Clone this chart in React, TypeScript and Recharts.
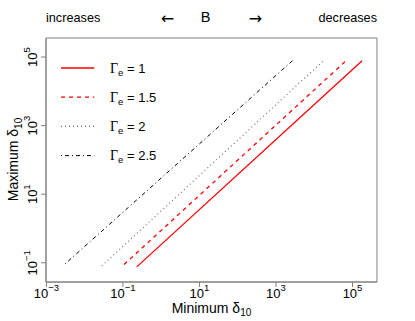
import React from 'react';
import { LineChart, Line, XAxis, YAxis, ReferenceArea, Legend } from 'recharts';

// ---- data (log-log axes) ----
const seriesNames = ['1', '1.5', '2', '2.5'];
const gamma1X = [0.23, 178000];
const gamma1Y = [0.076, 78000];
const gamma15X = [0.107, 67600];
const gamma15Y = [0.089, 78000];
const gamma2X = [0.028, 17400];
const gamma2Y = [0.081, 78000];
const gamma25X = [0.0031, 2690];
const gamma25Y = [0.093, 78000];

const xTicks = [1e-3, 1e-1, 1e1, 1e3, 1e5];
const yTicks = [1e-1, 1e1, 1e3, 1e5];
const xDomain = [Math.pow(10, -3.01), Math.pow(10, 5.64)];
const yDomain = [Math.pow(10, -1.56), Math.pow(10, 5.555)];

const zip = (xs: number[], ys: number[]) => xs.map((x, i) => ({ x, y: ys[i] }));

const styles = [
  { color: '#ff0000', dash: undefined, width: 1.3 },
  { color: '#ff0000', dash: '4 4', width: 1.3 },
  { color: '#666666', dash: '1 3', width: 1.1 },
  { color: '#000000', dash: '1 3 4 3', width: 1.0 },
];

const series = [
  { name: seriesNames[0], data: zip(gamma1X, gamma1Y), ...styles[0] },
  { name: seriesNames[1], data: zip(gamma15X, gamma15Y), ...styles[1] },
  { name: seriesNames[2], data: zip(gamma2X, gamma2Y), ...styles[2] },
  { name: seriesNames[3], data: zip(gamma25X, gamma25Y), ...styles[3] },
];

const FONT = '"Liberation Sans", Arial, Helvetica, sans-serif';
const BOX = '#808080';

const expOf = (v: number) => {
  const e = Math.round(Math.log10(v));
  return e < 0 ? '\u2212' + Math.abs(e) : String(e);
};

const XTick = (props: any) => {
  const { x, payload } = props;
  return (
    <text x={x} y={298} textAnchor="middle" fontSize={13} fontFamily={FONT} fill="#000">
      10<tspan dy={-7} fontSize={9.5}>{expOf(payload.value)}</tspan>
    </text>
  );
};

const YTick = (props: any) => {
  const { y, payload } = props;
  return (
    <text
      transform={`translate(37, ${y}) rotate(-90)`}
      textAnchor="middle"
      fontSize={13}
      fontFamily={FONT}
      fill="#000"
    >
      10<tspan dy={-7} fontSize={9.5}>{expOf(payload.value)}</tspan>
    </text>
  );
};

const LegendContent = () => (
  <svg width={130} height={120} style={{ display: 'block', overflow: 'visible' }}>
    {series.map((s, i) => {
      const cy = 12 + i * 29.2;
      return (
        <g key={s.name}>
          <line x1={5} x2={38.3} y1={cy} y2={cy} stroke={s.color} strokeWidth={s.width} strokeDasharray={s.dash} />
          <text x={54} y={cy + 4.5} fontSize={13} fontFamily={FONT} fill="#000">
            <tspan fontFamily='"Liberation Serif", "DejaVu Serif", serif' fontSize={14}>Γ</tspan>
            <tspan dy={3} fontSize={9.5}>e</tspan>
            <tspan dy={-3}>{' = ' + s.name}</tspan>
          </text>
        </g>
      );
    })}
  </svg>
);

export default function App() {
  return (
    <div style={{ position: 'absolute', left: 0, top: 0, width: 415, height: 321, background: '#fff' }}>
      <LineChart width={415} height={321} margin={{ top: 38, right: 38, left: 0, bottom: 0 }}>
        <XAxis
          type="number"
          dataKey="x"
          scale="log"
          domain={xDomain}
          allowDataOverflow
          ticks={xTicks}
          interval={0}
          height={39}
          stroke={BOX}
          tickLine={{ stroke: BOX }}
          tickSize={5}
          tick={<XTick />}
        />
        <YAxis
          type="number"
          dataKey="y"
          scale="log"
          domain={yDomain}
          allowDataOverflow
          ticks={yTicks}
          interval={0}
          width={46}
          stroke={BOX}
          tickLine={{ stroke: BOX }}
          tickSize={5}
          tick={<YTick />}
        />
        <ReferenceArea
          x1={xDomain[0]}
          x2={xDomain[1]}
          y1={yDomain[0]}
          y2={yDomain[1]}
          fill="none"
          fillOpacity={0}
          stroke={BOX}
          strokeWidth={1}
          ifOverflow="visible"
        />
        {series.map((s) => (
          <Line
            key={s.name}
            data={s.data}
            dataKey="y"
            type="linear"
            stroke={s.color}
            strokeWidth={s.width}
            strokeDasharray={s.dash}
            dot={false}
            activeDot={false}
            isAnimationActive={false}
          />
        ))}
        <Legend
          layout="vertical"
          align="center"
          verticalAlign="middle"
          content={<LegendContent />}
          wrapperStyle={{ left: 56, top: 56, width: 130, height: 120 }}
        />
      </LineChart>
      <svg
        width={415}
        height={321}
        style={{ position: 'absolute', left: 0, top: 0, pointerEvents: 'none' }}
      >
        <g fontFamily={FONT} fontSize={12.7} fill="#000">
          <text x={46} y={21.7} textAnchor="start">increases</text>
          <text x={167.5} y={23.8} textAnchor="middle" fontFamily='"DejaVu Sans", sans-serif' fontSize={16}>←</text>
          <text x={205.5} y={22.2} textAnchor="middle" fontSize={14.5}>B</text>
          <text x={255.5} y={23.8} textAnchor="middle" fontFamily='"DejaVu Sans", sans-serif' fontSize={16}>→</text>
          <text x={377} y={21.7} textAnchor="end">decreases</text>
        </g>
        <text x={211.5} y={312.7} textAnchor="middle" fontSize={14} fontFamily={FONT} fill="#000">
          Minimum δ<tspan dy={3.5} fontSize={10}>10</tspan>
        </text>
        <text
          transform="translate(18.3, 159.5) rotate(-90)"
          textAnchor="middle"
          fontSize={14}
          fontFamily={FONT}
          fill="#000"
        >
          Maximum δ<tspan dy={3.5} fontSize={10}>10</tspan>
        </text>
      </svg>
    </div>
  );
}
